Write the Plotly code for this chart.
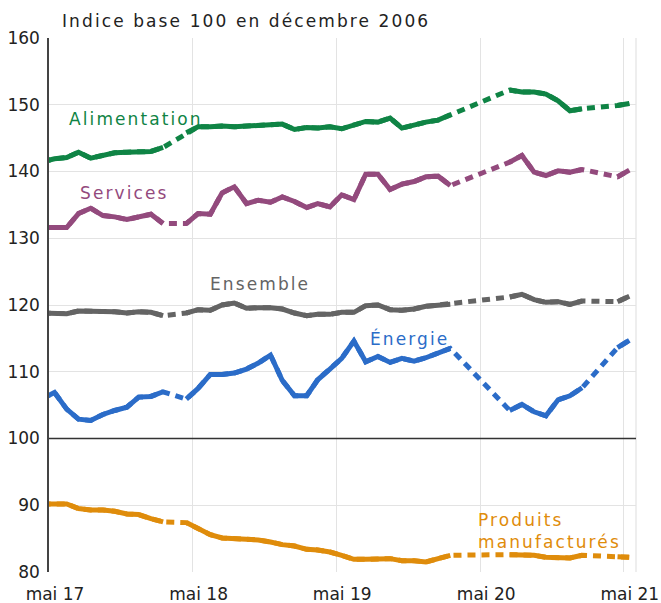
import plotly.graph_objects as go

# Monthly dates (mid-month), April 2017 to May 2021
months = [f"{y}-{m:02d}-15" for y in range(2017, 2022) for m in range(1, 13)]
months = [d for d in months if "2017-04-15" <= d <= "2021-05-15"]

N = None
alimentation = [141.5, 141.9, 142.1, 142.9, 142.0, 142.5, 142.8, 142.9, 142.9, 143.0, 143.6, N,
                145.8, 146.7, 146.7, 146.8, 146.7, 146.8, 146.8, 146.9, 147.1, 146.3, 146.6, 146.5,
                146.7, 146.4, 146.9, 147.5, 147.4, 148.0, 146.5, 147.0, 147.4, 147.7, 148.5, N,
                N, N, N, 152.2, 151.9, 151.9, 151.6, 150.6, 149.1, 149.4, N, N,
                149.9, 150.2]
services = [131.6, 131.6, 131.6, 133.7, 134.5, 133.4, 133.2, 132.8, 133.2, 133.6, 132.2, N,
            132.2, 133.7, 133.6, 136.8, 137.7, 135.2, 135.7, 135.4, 136.2, 135.5, 134.6, 135.2,
            134.7, 136.5, 135.8, 139.6, 139.6, 137.3, 138.1, 138.5, 139.2, 139.3, 137.9, N,
            N, N, N, 141.4, 142.4, 139.9, 139.4, 140.1, 139.9, 140.3, N, N,
            139.2, 140.2]
ensemble = [118.8, 118.8, 118.7, 119.1, 119.1, 119.0, 119.0, 118.8, 119.0, 118.9, 118.4, N,
            118.8, 119.3, 119.2, 120.0, 120.3, 119.5, 119.6, 119.6, 119.4, 118.8, 118.4, 118.6,
            118.6, 118.9, 118.9, 119.9, 120.0, 119.3, 119.2, 119.4, 119.8, 120.0, 120.1, N,
            N, N, N, 121.2, 121.6, 120.8, 120.4, 120.5, 120.1, 120.6, N, N,
            120.5, 121.3]
energie = [106.0, 106.9, 104.4, 102.9, 102.7, 103.6, 104.2, 104.7, 106.2, 106.3, 107.0, N,
           105.9, 107.5, 109.6, 109.6, 109.8, 110.4, 111.3, 112.5, 108.7, 106.4, 106.4, 108.8,
           110.4, 112.0, 114.6, 111.5, 112.3, 111.4, 112.0, 111.6, 112.1, 112.9, 113.5, N,
           N, N, N, 104.2, 105.1, 104.0, 103.4, 105.8, 106.4, 107.6, N, N,
           113.6, 114.7]
manufactures = [90.2, 90.2, 90.2, 89.5, 89.3, 89.3, 89.1, 88.7, 88.6, 88.0, 87.5, N,
                87.4, 86.5, 85.6, 85.1, 85.0, 85.0, 84.8, 84.5, 84.1, 83.9, 83.4, 83.3,
                83.0, 82.5, 81.9, 81.9, 82.0, 82.0, 81.7, 81.7, 81.5, 82.0, 82.5, N,
                N, N, N, 82.6, 82.6, 82.5, 82.2, 82.1, 82.1, 82.5, N, N,
                82.3, 82.2]

series_names = ["Alimentation", "Services", "Ensemble", "Énergie", "Produits<br>manufacturés"]
series_values = [alimentation, services, ensemble, energie, manufactures]
series_colors = ["#0f8445", "#934a7d", "#646464", "#2b6cc8", "#df8c0b"]

tick_vals = ["2017-05-01", "2018-05-01", "2019-05-01", "2020-05-01", "2021-05-01"]
tick_text = ["mai 17", "mai 18", "mai 19", "mai 20", "mai 21"]
y_ticks = [80, 90, 100, 110, 120, 130, 140, 150, 160]

FONT = "DejaVu Sans"

fig = go.Figure()
for name, vals, col in zip(series_names, series_values, series_colors):
    # dashed bridge across missing months (drawn underneath)
    fig.add_trace(go.Scatter(x=months, y=vals, mode="lines", connectgaps=True,
                             line=dict(color=col, width=5, dash="8px,6px"),
                             hoverinfo="skip", showlegend=False))
    fig.add_trace(go.Scatter(x=months, y=vals, mode="lines", connectgaps=False,
                             line=dict(color=col, width=5), name=name.replace("<br>", " "),
                             showlegend=False))

# labels (paper coords derived from layout)
labels = [
    ("Alimentation", 68, 119, series_colors[0]),
    ("Services", 79, 193, series_colors[1]),
    ("Ensemble", 209, 284, series_colors[2]),
    ("Énergie", 369, 338, series_colors[3]),
    ("Produits<br>manufacturés", 477, 531, series_colors[4]),
]
L, R, T, B = 49, 25, 38, 31
W, H = 661, 603
pw, ph = W - L - R, H - T - B
annotations = []
for txt, px, py, col in labels:
    annotations.append(dict(text=txt, x=(px - L) / pw, y=(H - B - py) / ph, xref="paper", yref="paper",
                            xanchor="left", yanchor="middle", align="left", showarrow=False,
                            font=dict(family=FONT, size=17, color=col), borderpad=0))
annotations.append(dict(text="Indice base 100 en décembre 2006", x=(61 - L) / pw, y=(H - B - 21) / ph,
                        xref="paper", yref="paper", xanchor="left", yanchor="middle", align="left",
                        showarrow=False, borderpad=0, font=dict(family=FONT, size=17, color="#222222")))

fig.update_layout(
    width=W, height=H, margin=dict(l=L, r=R, t=T, b=B, autoexpand=False),
    paper_bgcolor="white", plot_bgcolor="white",
    font=dict(family=FONT, size=17, color="#222222"),
    annotations=annotations,
    shapes=[
        dict(type="line", xref="paper", yref="y", x0=0, x1=1, y0=100, y1=100,
             line=dict(color="#333333", width=1.5), layer="above"),
        dict(type="line", xref="paper", yref="paper", x0=1, x1=1, y0=0, y1=1,
             line=dict(color="#dddddd", width=1), layer="below"),
    ],
    xaxis=dict(type="date", range=["2017-05-01", "2021-06-01"], tickvals=tick_vals, ticktext=tick_text,
               showgrid=True, gridcolor="#e3e3e3", gridwidth=1, zeroline=False, showline=False,
               automargin=False,
               ticks="", ticklabelshift=6, ticklabelstandoff=10, tickfont=dict(size=17)),
    yaxis=dict(range=[80, 160], tickvals=y_ticks, showgrid=True, gridcolor="#e3e3e3", gridwidth=1,
               automargin=False,
               zeroline=False, showline=True, linecolor="#444444", linewidth=1.5, ticks="",
               ticklabelstandoff=4, tickfont=dict(size=17)),
)

post = ("document.body.style.margin='0';document.body.style.overflow='hidden';"
        "document.querySelectorAll('.annotation-text').forEach(function(t){t.style.letterSpacing='2.1px';});")
fig.write_html("out.html", post_script=post, config={"displayModeBar": False})
